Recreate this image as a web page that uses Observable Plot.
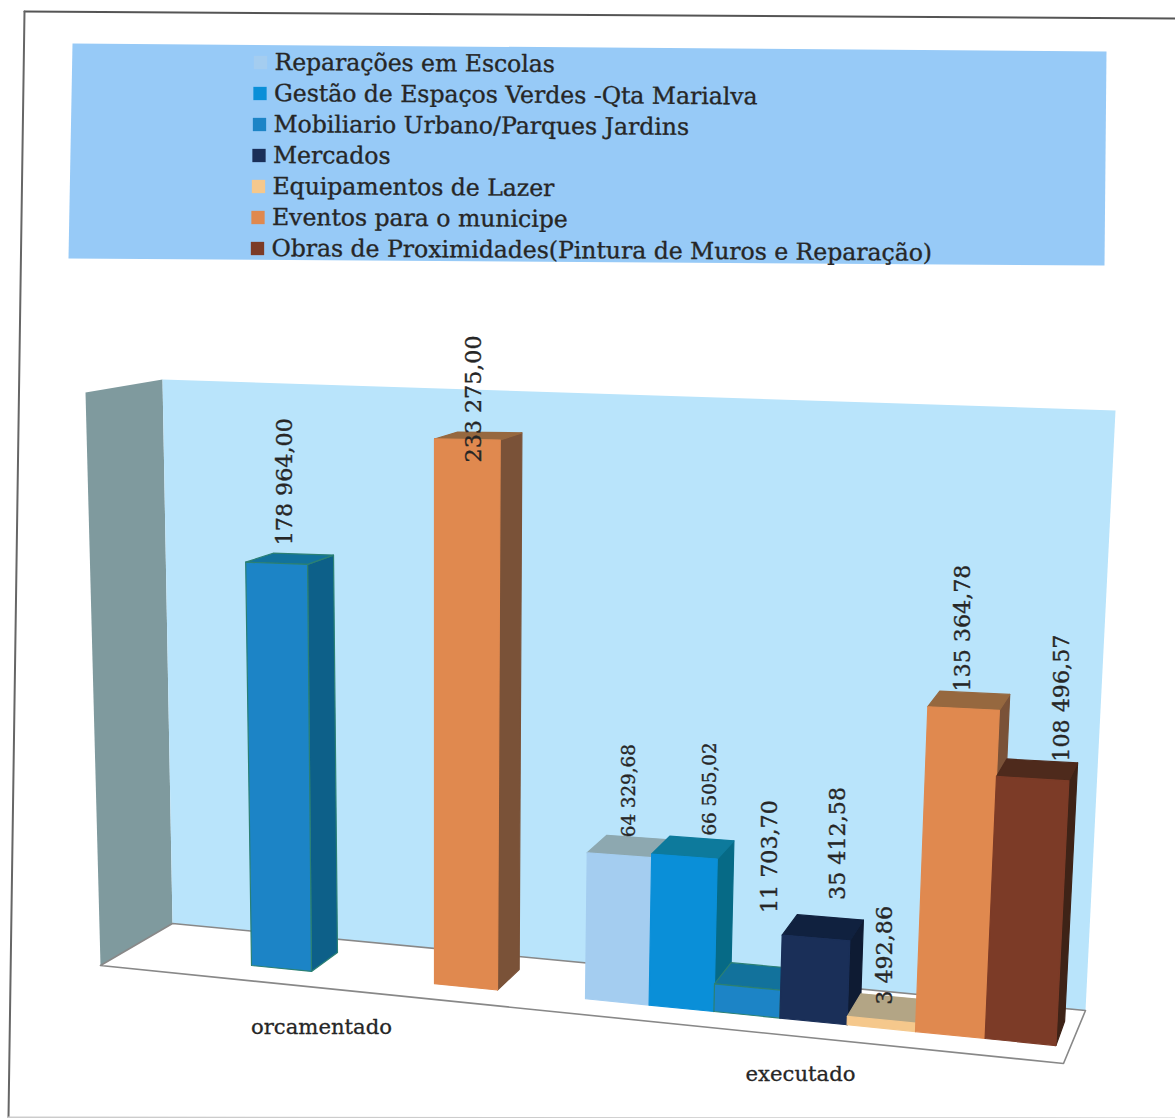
<!DOCTYPE html>
<html><head><meta charset="utf-8">
<script src="https://cdn.jsdelivr.net/npm/d3@7"></script>
<script src="https://cdn.jsdelivr.net/npm/@observablehq/plot@0.6"></script>
<style>html,body{margin:0;padding:0;background:#fff}svg{display:block}</style>
</head><body><div id="chart"></div>
<script>
// ---- data ----
const seriesNames = ["Reparações em Escolas","Gestão de Espaços Verdes -Qta Marialva","Mobiliario Urbano/Parques Jardins","Mercados","Equipamentos de Lazer","Eventos para o municipe","Obras de Proximidades(Pintura de Muros e Reparação)"];
const groups = ["orcamentado","executado"];
const orcamentadoValues = [null,null,178964.00,null,null,233275.00,null];
const executadoValues = [64329.68,66505.02,11703.70,35412.58,3492.86,135364.78,108496.57];

// ---- styles ----
const swatch = ["#a4cdf0","#0a8fd8","#1c84c6","#1a2f58","#f5c88c","#e0894f","#7c3b27"];
const topFace = ["#8da8b0","#0d7a9c","#12729c","#10213f","#b3a585","#96683f","#4e2a1c"];
const sideFace = ["#7a9ab0","#066a86","#0d6089","#0e1b33","#a89878","#7a5238","#3e2317"];
const edge = ["none","none","#2b8074","none","none","none","none"];
const labelSize = {e0:18.3,e1:18.3};
const labelOffset = {o2:[8,-18],o5:[7,23],e0:[10,-18],e1:[26,-21],e2:[22,-74],e3:[22,-38],e4:[3,-15],e5:[-1,-17],e6:[29,-17]};
const perspectiveAdjust = {o5:1.018,e0:0.975,e1:0.97,e3:0.99};
const ink = "#262626", serif = "DejaVu Serif";

// ---- oblique 3D projection of (bar, corner, value, depth) onto the page ----
function project(b, xc, v, d){
  const k = (2.26 + (b.x0-280)*0.00022 + (xc-b.x0)*0.00035)*(perspectiveAdjust[b.key]||1);
  const h = v/1000*k;
  const base = 965 + (xc-251)*0.0995;
  const lean = (xc-434)*7.9e-5*h;
  const dx = d*(26-(xc-310)*0.0232), dy = -d*(19-h*0.024+(xc-300)*0.007);
  return {x:xc+lean+dx, y:base-h+dy};
}
const slotX = i => 585 + i*(63+0.6*i);
const bars = [];
orcamentadoValues.forEach((v,i)=>{ if(v!=null) bars.push({key:"o"+i,s:i,v,x0:i===2?251:434,w:i===2?60:63}); });
executadoValues.forEach((v,i)=>bars.push({key:"e"+i,s:i,v,x0:slotX(i),w:slotX(i+1)-slotX(i)}));

const faces = [];
function face(id,fill,stroke,pts){ [...pts,pts[0]].forEach(p=>faces.push({id,fill,stroke,x:p.x,y:p.y})); }
for(const b of bars){
  const L=b.x0,R=b.x0+b.w,P=(x,v,d)=>project(b,x,v,d);
  const f=swatch[b.s],t=topFace[b.s],s=sideFace[b.s],e=edge[b.s]==="none"?null:edge[b.s];
  face(b.key+"s",s,e||s,[P(R,0,0),P(R,0,1),P(R,b.v,1),P(R,b.v,0)]);
  face(b.key+"t",t,e||t,[P(L,b.v,0),P(L,b.v,1),P(R,b.v,1),P(R,b.v,0)]);
  face(b.key+"f",f,e||f,[P(L,0,0),P(R,0,0),P(R,b.v,0),P(L,b.v,0)]);
}
const fmt = d3.formatLocale({decimal:",",thousands:"\u00a0",grouping:[3],currency:["",""]}).format(",.2f");
const labels = bars.map(b=>{
  const c=project(b,b.x0+b.w/2,b.v,0),o=labelOffset[b.key];
  return {x:c.x+o[0],y:c.y+o[1],text:fmt(b.v),size:labelSize[b.key]||22.2};
});

const poly = (pts,fill)=>Plot.line([...pts,pts[0]],{x:d=>d[0],y:d=>d[1],fill,stroke:"none"});
const seg = (pts,stroke,w)=>Plot.line(pts,{x:d=>d[0],y:d=>d[1],stroke,strokeWidth:w});
const legendRows = seriesNames.map((n,i)=>({n,i,y:62+31*i,x:274-0.5*i}));

const chart = Plot.plot({
  width:1175,height:1118,margin:0,
  style:{background:"#fff",overflow:"hidden"},
  x:{domain:[0,1175],range:[0,1175],axis:null},
  y:{domain:[0,1118],range:[0,1118],axis:null},
  color:{type:"identity"},
  marks:[
    // page frame
    seg([[24,11],[1175,18]],"#555",2),
    seg([[24,11],[8,1117]],"#666",2),
    seg([[8,1117],[1175,1118]],"#ccc",2),
    // legend panel
    poly([[72,43],[1106,51],[1104,265],[68,258]],"#97caf7"),
    Plot.dot(legendRows,{x:d=>d.x-14,y:"y",symbol:"square",r:7.5,fill:d=>swatch[d.i]}),
    Plot.text(legendRows,{x:"x",y:"y",text:"n",textAnchor:"start",lineAnchor:"middle",rotate:0.4,fontSize:23.5,fontFamily:serif,fill:ink,stroke:ink,strokeWidth:0.35}),
    // walls and floor
    poly([[85,392],[162,379],[172,923],[100,965]],"#7f9a9e"),
    poly([[162,379],[1115,410],[1085,1010],[172,923]],"#b9e4fb"),
    poly([[100,965],[172,923],[1085,1010],[1063,1063]],"#ffffff"),
    seg([[100,965],[172,923],[1085,1010],[1063,1063],[100,965]],"#888",1.6),
    // bars
    Plot.line(faces,{x:"x",y:"y",z:"id",fill:"fill",stroke:"stroke",strokeWidth:1.2}),
    // value labels
    Plot.text(labels,{x:"x",y:"y",text:"text",rotate:-90,textAnchor:"start",lineAnchor:"middle",fontSize:"size",fontFamily:serif,fill:ink,stroke:ink,strokeWidth:0.35}),
    // category labels
    Plot.text(groups,{x:[321,800],y:[1027,1074],text:d=>d,fontSize:21.2,fontFamily:serif,fill:ink,stroke:ink,strokeWidth:0.3})
  ]
});
document.getElementById("chart").append(chart);
</script></body></html>
